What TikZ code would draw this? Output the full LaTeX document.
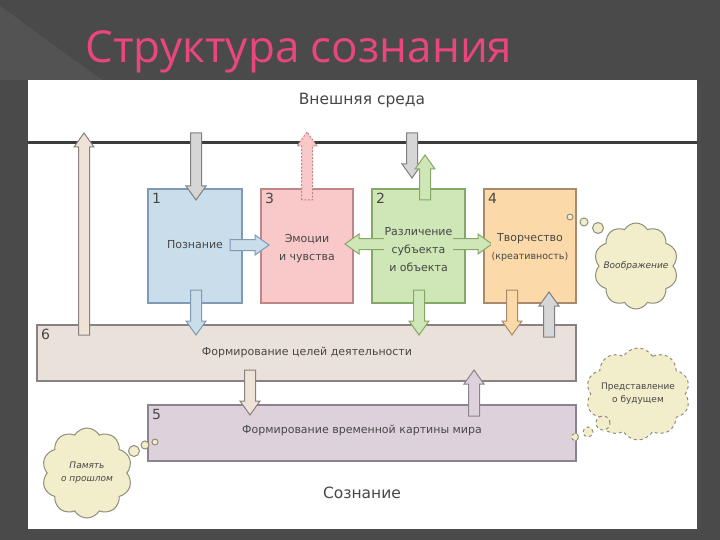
\documentclass[tikz,border=0pt]{standalone}
\usepackage{fontspec}
\setmainfont{DejaVu Sans}
\newfontfamily\titlefont{Open Sans}
\usetikzlibrary{calc,shapes.symbols}
\definecolor{bgdark}{HTML}{4A4A4A}
\definecolor{bglight}{HTML}{535353}
\definecolor{titlepink}{HTML}{E8467C}
\definecolor{txt}{HTML}{474747}
\definecolor{linecol}{HTML}{3C3C3C}
\definecolor{bluef}{HTML}{C9DDEA}\definecolor{blued}{HTML}{7F9AB4}
\definecolor{pinkf}{HTML}{F9C9C9}\definecolor{pinkd}{HTML}{BE8686}
\definecolor{greenf}{HTML}{CFE6B6}\definecolor{greend}{HTML}{86A866}
\definecolor{orangef}{HTML}{FCD9A9}\definecolor{oranged}{HTML}{A88A6C}
\definecolor{sixf}{HTML}{E9E1DA}\definecolor{sixd}{HTML}{8A8282}
\definecolor{fivef}{HTML}{DDD2DC}\definecolor{fived}{HTML}{8C8290}
\definecolor{beigef}{HTML}{EFE3D8}\definecolor{beiged}{HTML}{8A8080}
\definecolor{grayf}{HTML}{D6D6D6}\definecolor{grayd}{HTML}{808080}
\definecolor{cloudf}{HTML}{F2EDCB}\definecolor{cloudd}{HTML}{8E8E7A}
\newcommand\blockarrow[3]{%
  \coordinate (hbT) at ($(#3)!14pt!(#2)$);
  \filldraw[#1] ($(#2)!5.5pt!90:(#3)$) -- ($(hbT)!5.5pt!-90:(#2)$) -- ($(hbT)!10pt!-90:(#2)$) -- (#3) -- ($(hbT)!10pt!90:(#2)$) -- ($(hbT)!5.5pt!90:(#2)$) -- ($(#2)!5.5pt!-90:(#3)$) -- cycle;}
\newcommand\dblarrow[3]{%
  \coordinate (hbA) at ($(#2)!14pt!(#3)$);
  \coordinate (hbB) at ($(#3)!14pt!(#2)$);
  \filldraw[#1] (#2) -- ($(hbA)!10pt!90:(#3)$) -- ($(hbA)!5.5pt!90:(#3)$) -- ($(hbB)!5.5pt!-90:(#2)$) -- ($(hbB)!10pt!-90:(#2)$) -- (#3) -- ($(hbB)!10pt!90:(#2)$) -- ($(hbB)!5.5pt!90:(#2)$) -- ($(hbA)!5.5pt!-90:(#3)$) -- ($(hbA)!10pt!-90:(#3)$) -- cycle;}
\begin{document}
\begin{tikzpicture}[x=1pt,y=-1pt,
  box/.style={draw, line width=1.3pt, inner sep=0pt, outer sep=0pt},
  lbl/.style={text=txt, font=\fontsize{11}{18}\selectfont, align=center, inner sep=1pt},
  num/.style={text=txt, font=\fontsize{14}{14}\selectfont, anchor=north west, inner sep=0pt},
  big/.style={text=txt, font=\fontsize{15.5}{16}\selectfont},
  cloudbox/.style={cloud, cloud puffs=10, cloud puff arc=120, draw=cloudd, fill=cloudf, line width=1pt, inner sep=0pt},
  bubble/.style={circle, draw=cloudd, fill=cloudf, line width=1pt, inner sep=0pt},
  ctext/.style={text=txt, font=\itshape\fontsize{9}{13}\selectfont, align=center},
  ablue/.style={fill=bluef, draw=blued, line width=1pt},
  agreen/.style={fill=greenf, draw=greend, line width=1pt},
  aorange/.style={fill=orangef, draw=oranged, line width=1pt},
  agray/.style={fill=grayf, draw=grayd, line width=1pt},
  abeige/.style={fill=beigef, draw=beiged, line width=1pt},
  alav/.style={fill=fivef, draw=fived, line width=1pt},
  apink/.style={fill=pinkf, draw=pinkd, line width=1pt, dashed, dash pattern=on 2pt off 1.5pt}]
\useasboundingbox (0,0) rectangle (720,540);
\fill[bgdark] (0,0) rectangle (720,540);
\fill[bglight] (0,6) -- (102,80) -- (0,80) -- cycle;
\fill[black!70] (31,83) rectangle (701,532);
\fill[white] (28,80) rectangle (697,529);
% title
\node[anchor=base west, text=titlepink, font=\titlefont\fontsize{44}{44}\selectfont] (title) at (82,63) {Структура сознания};
% outer labels
\node[big] (env) at (362,100) {Внешняя среда};
\node[big] (cons) at (362,493) {Сознание};
\coordinate (lineL) at (28,143);
\coordinate (lineR) at (697,143);
\draw[line width=3pt, linecol] (lineL) -- (lineR);
% boxes
\node[box, fill=bluef, draw=blued, minimum width=94, minimum height=114] (b1) at (195,246) {};
\node[box, fill=pinkf, draw=pinkd, minimum width=92, minimum height=114] (b3) at (307,246) {};
\node[box, fill=greenf, draw=greend, minimum width=93, minimum height=114] (b2) at (418.5,246) {};
\node[box, fill=orangef, draw=oranged, minimum width=92, minimum height=114] (b4) at (530,246) {};
\node[box, fill=sixf, draw=sixd, minimum width=539, minimum height=56] (b6) at (306.5,353) {};
\node[box, fill=fivef, draw=fived, minimum width=428, minimum height=56] (b5) at (362,433) {};
% numbers
\node[num] at ($(b1.north west)+(4,4)$) {1};
\node[num] at ($(b3.north west)+(4,4)$) {3};
\node[num] at ($(b2.north west)+(4,4)$) {2};
\node[num] at ($(b4.north west)+(4,4)$) {4};
\node[num] at ($(b6.north west)+(4,4)$) {6};
\node[num] at ($(b5.north west)+(4,4)$) {5};
% arrow end points
\coordinate (a1s) at (84,335); \coordinate (a1e) at (84,133);
\coordinate (a2s) at (196,133); \coordinate (a2e) at (196,200);
\coordinate (a3s) at (307,200); \coordinate (a3e) at (307,132);
\coordinate (a4s) at (412,133); \coordinate (a4e) at (412,178);
\coordinate (a5s) at (425,200); \coordinate (a5e) at (425,155);
\coordinate (a6s) at (230,245); \coordinate (a6e) at (269,245);
\coordinate (a7s) at (345,244); \coordinate (a7e) at (492,244);
\coordinate (a8s) at (196,290); \coordinate (a8e) at (196,335);
\coordinate (a9s) at (419,290); \coordinate (a9e) at (419,335);
\coordinate (a10s) at (512,290); \coordinate (a10e) at (512,335);
\coordinate (a11s) at (549,337); \coordinate (a11e) at (549,292);
\coordinate (a12s) at (250,370); \coordinate (a12e) at (250,415);
\coordinate (a13s) at (474,416); \coordinate (a13e) at (474,370);
% arrows
\blockarrow{abeige}{a1s}{a1e}
\blockarrow{agray}{a2s}{a2e}
\blockarrow{apink}{a3s}{a3e}
\blockarrow{agray}{a4s}{a4e}
\blockarrow{agreen}{a5s}{a5e}
\blockarrow{ablue}{a6s}{a6e}
\dblarrow{agreen}{a7s}{a7e}
\blockarrow{ablue}{a8s}{a8e}
\blockarrow{agreen}{a9s}{a9e}
\blockarrow{aorange}{a10s}{a10e}
\blockarrow{agray}{a11s}{a11e}
\blockarrow{abeige}{a12s}{a12e}
\blockarrow{alav}{a13s}{a13e}
% labels
\node[lbl, fill=bluef] (t1) at (195,245) {Познание};
\node[lbl, fill=pinkf] (t3) at (307,249) {Эмоции\\и чувства};
\node[lbl, fill=greenf] (t2) at (418.5,250) {Различение\\субъекта\\и объекта};
\node[lbl, fill=orangef] (t4) at (530,247.5) {Творчество\\{\fontsize{9.5}{18}\selectfont(креативность)}};
\node[lbl, fill=sixf] (t6) at (307,352) {Формирование целей деятельности};
\node[lbl, fill=fivef] (t5) at (362,430) {Формирование временной картины мира};
% clouds
\node[cloudbox, minimum width=84, minimum height=86, aspect=1] (c1) at (636,266) {};
\node[ctext] at (c1) {Воображение};
\node[bubble, minimum size=6] (c1a) at (570,217) {};
\node[bubble, minimum size=8] (c1b) at (584,222) {};
\node[bubble, minimum size=11] (c1c) at (598,228) {};
\node[cloudbox, minimum width=90, minimum height=90, aspect=1] (c2) at (87,473) {};
\node[ctext] at (c2) {Память\\о прошлом};
\node[bubble, minimum size=6] (c2a) at (155,442) {};
\node[bubble, minimum size=8] (c2b) at (145,445) {};
\node[bubble, minimum size=11] (c2c) at (134,451) {};
\node[cloudbox, dashed, minimum width=104, minimum height=92, aspect=1.1] (c3) at (638,394) {};
\node[ctext, font=\fontsize{9}{13}\selectfont] at (c3) {Представление\\о будущем};
\node[bubble, dashed, minimum size=7] (c3a) at (575,437) {};
\node[bubble, dashed, minimum size=10] (c3b) at (588,432) {};
\node[bubble, dashed, minimum size=14] (c3c) at (603,423) {};
\end{tikzpicture}
\end{document}
